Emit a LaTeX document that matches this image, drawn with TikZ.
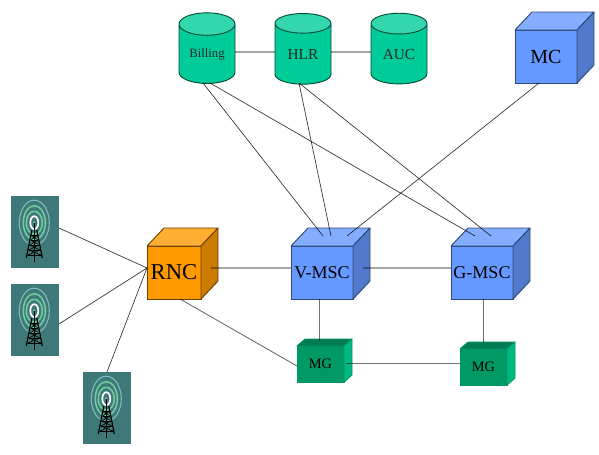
\documentclass[tikz,border=0pt]{standalone}
\usepackage{fontspec}
\setmainfont{Liberation Serif}
\usetikzlibrary{shapes.geometric}
\definecolor{blueface}{HTML}{6699FF}
\definecolor{bluetop}{HTML}{85ADFF}
\definecolor{blueside}{HTML}{5279CC}
\definecolor{blueedge}{HTML}{2F4A78}
\definecolor{orangeface}{HTML}{FF9900}
\definecolor{orangetop}{HTML}{FFAD33}
\definecolor{orangeside}{HTML}{CC7A00}
\definecolor{orangeedge}{HTML}{6B4000}
\definecolor{mgface}{HTML}{009966}
\definecolor{mgtop}{HTML}{007A52}
\definecolor{mgside}{HTML}{00B880}
\definecolor{dbfill}{HTML}{00CC99}
\definecolor{dbtop}{HTML}{33D6AD}
\definecolor{dbedge}{HTML}{004D39}
\definecolor{btsfill}{HTML}{3F7878}
\definecolor{btsouter}{HTML}{7FBDBD}
\definecolor{btsgreen}{HTML}{70CCA0}
% #1 name, #2 centre, #3/#4 size, #5/#6 depth, #7 colour prefix, #8 edge, #9 label
\newcommand{\cube}[9]{
  \node[draw=#8,line width=0.7pt,fill=#7face,inner sep=0pt,outer sep=0pt,minimum width=#3*0.75pt,minimum height=#4*0.75pt] (#1) at (#2) {#9};
  \draw[#8,line width=0.7pt,fill=#7top,line join=round] (#1.north west) -- ++(#5,-#6) -- ++(#3,0) -- (#1.north east) -- cycle;
  \draw[#8,line width=0.7pt,fill=#7side,line join=round] (#1.north east) -- ++(#5,-#6) -- ++(0,#4) -- (#1.south east) -- cycle;
}
% #1 name, #2 x, #3 y of the centre of the panel
\newcommand{\bts}[3]{
  \node[fill=btsfill,inner sep=0pt,outer sep=0pt,minimum width=36pt,minimum height=54pt] (#1) at (#2,#3) {};
  \begin{scope}[shift={(#2-0.7,#3)}]
    \draw[btsouter,line width=0.8pt] (0,-9.3) ellipse (15 and 22.5);
    \draw[btsgreen,line width=1.2pt] (0,-9.3) ellipse (11 and 17);
    \draw[btsgreen,line width=1.2pt] (0,-9.3) ellipse (8 and 11.5);
    \draw[white,line width=1.3pt] (0,-9.3) ellipse (4 and 6.5);
    \fill[btsouter] (0,-9.3) circle (1.3);
    \draw[black,line width=0.7pt] (0,-9) -- (0,30);
    \draw[black,line width=0.9pt] (-2.5,-2) -- (-8,26) (2.5,-2) -- (8,26);
    \draw[black,line width=0.7pt] (-3,3) -- (3,3) (-3.5,8) -- (3.5,8) (-4.5,13) -- (4.5,13) (-5.5,18) -- (5.5,18) (-6.5,23) -- (6.5,23);
    \draw[black,line width=0.5pt] (-3,3) -- (3.5,8) -- (-4.5,13) -- (5.5,18) -- (-6.5,23) (3,3) -- (-3.5,8) -- (4.5,13) -- (-5.5,18) -- (6.5,23);
  \end{scope}
}
\begin{document}
\begin{tikzpicture}[x=0.75pt,y=-0.75pt,
    lnk/.style={black,line width=0.5pt,opacity=0.8},
    midlnk/.style={black,line width=0.7pt,opacity=0.55},
    trunk/.style={black,line width=1pt,opacity=0.35},
    db/.style={cylinder,shape border rotate=90,draw=dbedge,line width=0.7pt,cylinder uses custom fill,
      cylinder body fill=dbfill,cylinder end fill=dbtop,aspect=0.64,
      minimum width=42pt,minimum height=53pt,inner sep=0pt,outer sep=0pt,text=black!85}]
  \useasboundingbox (0,0) rectangle (599,454);
  % towers
  \bts{bta}{35}{232}
  \bts{btb}{35}{320}
  \bts{btc}{107}{408}
  % database cylinders
  \node[db,font=\fontsize{9.5pt}{11pt}\selectfont] (billing) at (207,54) {Billing};
  \node[db,font=\fontsize{11.5pt}{13pt}\selectfont] (hlr) at (303,54) {HLR};
  \node[db,font=\fontsize{11.5pt}{13pt}\selectfont] (auc) at (399,54) {AUC};
  % switching cubes
  \cube{rnc}{174,272.5}{54}{53}{17}{18}{orange}{orangeedge}{\fontsize{17pt}{19pt}\selectfont RNC}
  \cube{vmsc}{322,272.5}{62}{53}{17}{18}{blue}{blueedge}{\fontsize{13.5pt}{15pt}\selectfont V-MSC}
  \cube{gmsc}{482,272.5}{62}{53}{17}{18}{blue}{blueedge}{\fontsize{13.5pt}{15pt}\selectfont G-MSC}
  \cube{mc}{546,56.5}{62}{53}{17}{18}{blue}{blueedge}{\fontsize{15pt}{17pt}\selectfont MC}
  \cube{mga}{320.5,364}{47}{36}{8}{7}{mg}{mgface}{\fontsize{10.8pt}{12pt}\selectfont MG}
  \cube{mgb}{483.5,367}{47}{36}{8}{7}{mg}{mgface}{\fontsize{10.8pt}{12pt}\selectfont MG}
  % free line ends on the cubes
  \coordinate (rncin) at (147,268);
  \coordinate (rncout) at (211,268);
  \coordinate (rncdown) at (180,299);
  \coordinate (vmscout) at (363,268);
  \coordinate (vmscdown) at (319.5,299);
  \coordinate (gmscdown) at (483.5,299);
  \coordinate (va) at (323,236);
  \coordinate (vb) at (331,236);
  \coordinate (vc) at (347,236);
  \coordinate (ga) at (475,236);
  \coordinate (gb) at (491,236);
  \coordinate (mcdown) at (539,83);
  \coordinate (mgain) at (319.5,341);
  \coordinate (mgaout) at (346,363);
  \coordinate (mgbin) at (483.5,343);
  \coordinate (billa) at (203,83);
  \coordinate (billb) at (210,83);
  \coordinate (hlrdown) at (299,83);
  % air interface
  \draw[lnk] (bta.east |- 0,228) -- (rncin);
  \draw[lnk] (btb.east |- 0,324) -- (rncin);
  \draw[lnk] (btc.north) -- (rncin);
  % signalling
  \draw[trunk] (billing.east |- 0,52) -- (hlr.west |- 0,52);
  \draw[trunk] (hlr.east |- 0,52) -- (auc.west |- 0,52);
  \draw[lnk] (billa) -- (va);
  \draw[lnk] (billb) -- (ga);
  \draw[lnk] (hlrdown) -- (vb);
  \draw[lnk] (hlrdown) -- (gb);
  \draw[lnk] (mcdown) -- (vc);
  % bearer
  \draw[trunk] (rncout) -- (vmsc.west |- rncout);
  \draw[trunk] (vmscout) -- (gmsc.west |- vmscout);
  \draw[midlnk] (rncdown) -- (mga.west |- 0,366);
  \draw[midlnk] (vmscdown) -- (mgain);
  \draw[midlnk] (gmscdown) -- (mgbin);
  \draw[midlnk] (mgaout) -- (mgb.west |- mgaout);
\end{tikzpicture}
\end{document}
